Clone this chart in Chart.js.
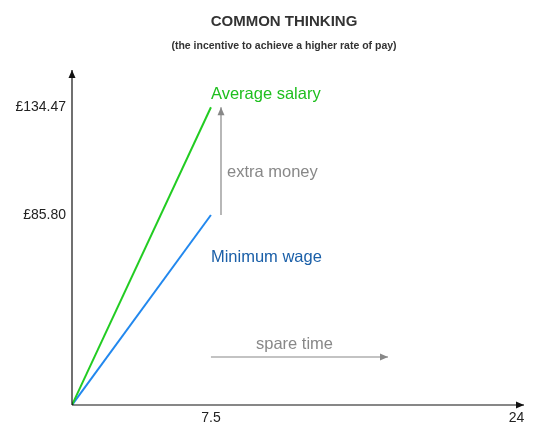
<!DOCTYPE html>
<html>
<head>
<meta charset="utf-8">
<script src="https://cdn.jsdelivr.net/npm/chart.js@4"></script>
<style>
  body { margin: 0; background: #fff; }
  #wrap { width: 542px; height: 448px; }
</style>
</head>
<body>
<div id="wrap"><canvas id="c"></canvas></div>
<script>
const xTicks = [0, 7.5, 24];
const yTicks = [0, 85.80, 134.47];
const hours = [0, 7.5];
const averageSalary = [0, 134.47];
const minimumWage = [0, 85.80];

// axes with arrows, titles and notes
const overlay = {
  id: "overlay",
  afterDraw(chart) {
    const ctx = chart.ctx, x = chart.scales.x, y = chart.scales.y;
    const x0 = x.getPixelForValue(0), y0 = y.getPixelForValue(0);
    const top = chart.chartArea.top, right = chart.chartArea.right;

    function arrow(x1, y1, x2, y2, color) {
      ctx.save();
      ctx.strokeStyle = color; ctx.fillStyle = color; ctx.lineWidth = 1.2;
      ctx.beginPath(); ctx.moveTo(x1, y1); ctx.lineTo(x2, y2); ctx.stroke();
      const a = Math.atan2(y2 - y1, x2 - x1);
      ctx.beginPath();
      ctx.moveTo(x2, y2);
      ctx.lineTo(x2 - 8 * Math.cos(a) + 3.5 * Math.sin(a), y2 - 8 * Math.sin(a) - 3.5 * Math.cos(a));
      ctx.lineTo(x2 - 8 * Math.cos(a) - 3.5 * Math.sin(a), y2 - 8 * Math.sin(a) + 3.5 * Math.cos(a));
      ctx.closePath(); ctx.fill();
      ctx.restore();
    }
    arrow(x0, y0, x0, top, "#111");
    arrow(x0, y0, right, y0, "#111");

    ctx.save();
    ctx.textAlign = "center"; ctx.fillStyle = "#333";
    ctx.font = "bold 15px Arial, 'Liberation Sans'";
    ctx.fillText("COMMON THINKING", 284, 26);
    ctx.font = "bold 10.5px Arial, 'Liberation Sans'";
    ctx.fillText("(the incentive to achieve a higher rate of pay)", 284, 49);

    ctx.font = "16.5px Arial, 'Liberation Sans'";
    ctx.textAlign = "left";
    const xe = x.getPixelForValue(7.5);
    ctx.fillStyle = "#1fbf1f";
    ctx.fillText("Average salary", xe, y.getPixelForValue(134.47) - 8);
    ctx.fillStyle = "#1a5fa8";
    ctx.fillText("Minimum wage", xe, y.getPixelForValue(85.80) + 47);
    ctx.fillStyle = "#888";
    ctx.fillText("extra money", 227, 177);
    ctx.fillText("spare time", 256, 349);
    ctx.restore();

    arrow(221, y.getPixelForValue(85.80), 221, y.getPixelForValue(134.47), "#888");
    arrow(xe, 357, 388, 357, "#888");
  }
};

new Chart(document.getElementById("c"), {
  type: "line",
  data: {
    labels: hours,
    datasets: [
      { data: hours.map((h, i) => ({ x: h, y: averageSalary[i] })), borderColor: "#22cc22", borderWidth: 2, pointRadius: 0 },
      { data: hours.map((h, i) => ({ x: h, y: minimumWage[i] })), borderColor: "#2288ee", borderWidth: 2, pointRadius: 0 }
    ]
  },
  options: {
    responsive: true, maintainAspectRatio: false, animation: false,
    layout: { padding: { top: 70, right: 18, left: 0, bottom: 0 } },
    plugins: { legend: { display: false }, tooltip: { enabled: false } },
    scales: {
      x: {
        type: "linear", min: 0, max: 24.4,
        afterBuildTicks: s => { s.ticks = xTicks.map(v => ({ value: v })); },
        afterFit: s => { s.height = 43; },
        grid: { display: false, drawTicks: false }, border: { display: false },
        ticks: { padding: 5, color: "#222", font: { size: 14, family: "Arial, 'Liberation Sans'" },
          callback: v => v === 0 ? "" : String(v) }
      },
      y: {
        min: 0, max: 151.3,
        afterBuildTicks: s => { s.ticks = yTicks.map(v => ({ value: v })); },
        afterFit: s => { s.width = 72; },
        grid: { display: false, drawTicks: false }, border: { display: false },
        ticks: { padding: 6, color: "#222", font: { size: 14, family: "Arial, 'Liberation Sans'" },
          callback: v => v === 0 ? "" : "£" + v.toFixed(2) }
      }
    }
  },
  plugins: [overlay]
});
</script>
</body>
</html>
